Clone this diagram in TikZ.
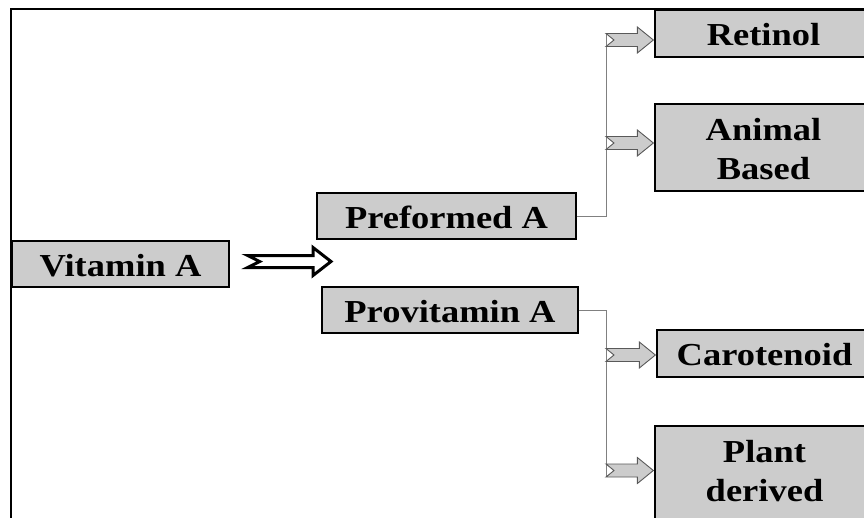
\documentclass[tikz,border=0pt]{standalone}
\usepackage{fontspec}
\setmainfont[FakeStretch=1.14]{Liberation Serif}
\usepackage{tikz}
\usetikzlibrary{                          % TikZ libraries
                calc,                     % .
                shapes}
\usepackage{xcolor}

% small grey block arrow from a tail point to the west side of a box
\newcommand{\feedarrow}[2]{%
    \draw[feed] let
                \p1 = (#1),
                \p2 = (#2.west)
            in
                (\x1,\y1+6.5pt) -- (\x2-17pt,\y1+6.5pt) -- (\x2-17pt,\y1+13pt) --
                (\x2-1pt,\y1)   -- (\x2-17pt,\y1-13pt)  -- (\x2-17pt,\y1-6.5pt) --
                (\x1,\y1-6.5pt) -- (\x1+8pt,\y1)        -- cycle;}

\begin{document}
\begin{tikzpicture}[x=1pt,y=-1pt
                    ]
                % define styles
\tikzset{catbox/.style={rectangle,
                       draw=black,
                       fill=black!20,
                       line width=1.3pt,
                       inner sep=4pt,
                       align=center,
                       text height=24pt,
                       text depth=0pt,
                       font=\fontsize{32}{39}\selectfont\bfseries,
                       },
         twoline/.style={text height=63pt},
         feed/.style={draw=black!65,
                       fill=black!20,
                       line width=0.9pt,
                       line join=miter,
                       },
         link/.style={draw=black!50,
                       line width=1pt,
                       },
         bigarrow/.style={draw=black,
                       fill=white,
                       line width=3pt,
                       line join=miter,
                       }
}

% page and frame
\useasboundingbox (0,0) rectangle (864,517);
\clip (0,0) rectangle (864,517);
\draw[line width=2.2pt] (11,520) -- (11,9) -- (880,9);

% nodes
\node[catbox, minimum width=217pt, minimum height=46pt] (vita)  at (120.5,264)   {Vitamin A};
\node[catbox, minimum width=259pt, minimum height=46pt] (pre)   at (446.5,216)   {Preformed A};
\node[catbox, minimum width=256pt, minimum height=46pt] (pro)   at (450,310)     {Provitamin A};
\node[catbox, minimum width=217pt, minimum height=47pt] (ret)   at (763.5,33.5)  {Retinol};
\node[catbox, twoline, minimum width=217pt, minimum height=87pt]  (anim) at (763.5,147.5) {Animal\\Based};
\node[catbox, twoline, text depth=23pt, minimum width=219pt, minimum height=110pt] (plant) at (764.5,481) {Plant\\derived};
\node[catbox, minimum width=215pt, minimum height=47pt] (carot) at (764.5,353.5) {Carotenoid};

% tails of the small arrows
\coordinate (t1) at (606,40);
\coordinate (t2) at (606,143);
\coordinate (t3) at (606,355);
\coordinate (t4) at (606,470.5);
\coordinate (split) at (331,261.5);

% main arrow
\draw[bigarrow] let
            \p1 = ([xshift=18pt]vita.east),
            \p2 = (split)
        in
            (\x1,\y2+6pt)   -- (\x2-18pt,\y2+6pt) -- (\x2-18pt,\y2+14pt) --
            (\x2,\y2)       -- (\x2-18pt,\y2-14pt) -- (\x2-18pt,\y2-6pt) --
            (\x1,\y2-6pt)   -- (\x1+12pt,\y2)      -- cycle;

% branch lines
\draw[link] (pre.east) -| ([yshift=6.5pt]t1);
\draw[link] (pro.east) -| ([yshift=-6.5pt]t4);

% branch arrows
\feedarrow{t1}{ret}
\feedarrow{t2}{anim}
\feedarrow{t3}{carot}
\feedarrow{t4}{plant}

\end{tikzpicture}
\end{document}
